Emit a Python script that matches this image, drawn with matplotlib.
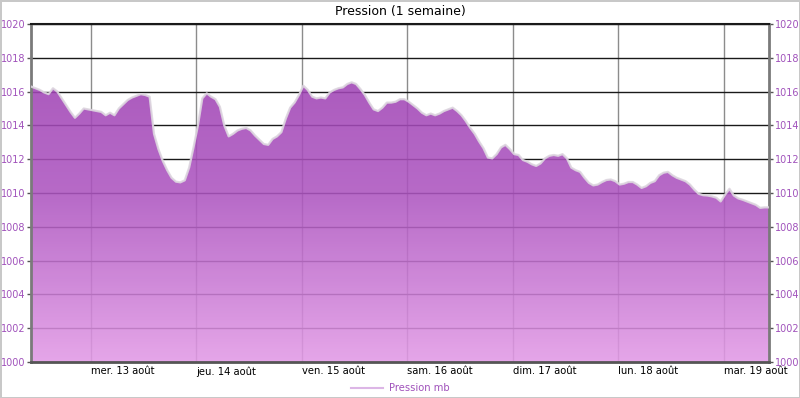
import numpy as np
import pandas as pd
import matplotlib
matplotlib.use("Agg")
import matplotlib.pyplot as plt
import matplotlib.dates as mdates
from matplotlib.colors import LinearSegmentedColormap
from matplotlib.patches import PathPatch
from matplotlib.lines import Line2D

# Hourly pressure readings (mb), 12 Aug 2014 10:20 -> 19 Aug 2014 10:20
start = "2014-08-12 10:20"
pression = [
    1016.3, 1016.2, 1016.1, 1015.95, 1015.85, 1016.2, 1016.0, 1015.6, 1015.2, 1014.8,
    1014.45, 1014.7, 1015.0, 1014.95, 1014.9, 1014.85, 1014.8, 1014.6, 1014.75, 1014.6,
    1015.0, 1015.25, 1015.5, 1015.65, 1015.75, 1015.85, 1015.8, 1015.7, 1013.5, 1012.6,
    1011.9, 1011.35, 1010.9, 1010.67, 1010.63, 1010.75, 1011.5, 1012.7, 1014.0, 1015.6,
    1015.9, 1015.7, 1015.55, 1015.1, 1014.0, 1013.35, 1013.5, 1013.7, 1013.8, 1013.85,
    1013.7, 1013.4, 1013.15, 1012.9, 1012.85, 1013.2, 1013.35, 1013.6, 1014.4, 1015.05,
    1015.35, 1015.8, 1016.35, 1016.1, 1015.7, 1015.6, 1015.65, 1015.6, 1015.95, 1016.1,
    1016.2, 1016.25, 1016.45, 1016.55, 1016.45, 1016.15, 1015.8, 1015.35, 1014.95, 1014.85,
    1015.05, 1015.35, 1015.35, 1015.4, 1015.55, 1015.55, 1015.4, 1015.2, 1015.0, 1014.75,
    1014.6, 1014.7, 1014.6, 1014.7, 1014.85, 1014.95, 1015.05, 1014.85, 1014.6, 1014.25,
    1013.85, 1013.5, 1013.05, 1012.65, 1012.1, 1012.05, 1012.3, 1012.7, 1012.85, 1012.6,
    1012.3, 1012.25, 1011.95, 1011.85, 1011.7, 1011.6, 1011.75, 1012.05, 1012.2, 1012.25,
    1012.2, 1012.3, 1012.05, 1011.5, 1011.35, 1011.25, 1010.9, 1010.6, 1010.45, 1010.5,
    1010.65, 1010.77, 1010.8, 1010.7, 1010.5, 1010.55, 1010.65, 1010.65, 1010.5, 1010.3,
    1010.4, 1010.6, 1010.7, 1011.05, 1011.2, 1011.25, 1011.05, 1010.9, 1010.8, 1010.7,
    1010.5, 1010.2, 1009.95, 1009.87, 1009.85, 1009.8, 1009.72, 1009.5, 1009.9, 1010.25,
    1009.85, 1009.68, 1009.6, 1009.5, 1009.4, 1009.3, 1009.12, 1009.15, 1009.15,
]
jours = ["lun.", "mar.", "mer.", "jeu.", "ven.", "sam.", "dim."]
mois = "août"
y_ticks = [1000, 1002, 1004, 1006, 1008, 1010, 1012, 1014, 1016, 1018, 1020]

times = pd.date_range(start, periods=len(pression), freq="h")
purple = "#a052bb"

fig = plt.figure(figsize=(8, 3.98), dpi=100)
fig.patch.set_edgecolor("#c8c8c8")
fig.patch.set_linewidth(1.0)
ax = fig.add_axes([31 / 800, 36 / 398, 738 / 800, 338 / 398])

ax.set_xlim(times[0], times[-1])
ax.set_ylim(1000, 1020)
ax.set_yticks(y_ticks)

# grid behind the translucent fill
ax.set_axisbelow(True)
ax.yaxis.grid(True, color="#1a1a1a", lw=1.0)
ax.xaxis.grid(True, color="#8c8c8c", lw=1.0)

# gradient fill clipped under the curve
poly = ax.fill_between(times, pression, 1000, facecolor="none", edgecolor="none")
clip = PathPatch(poly.get_paths()[0], transform=ax.transData, facecolor="none", edgecolor="none")
ax.add_patch(clip)
cmap = LinearSegmentedColormap.from_list("pr", ["#e29ae6", "#ad55c0", "#9a3db0"])
grad = np.linspace(0, 1, 256).reshape(-1, 1)
x0, x1 = mdates.date2num(times[0]), mdates.date2num(times[-1])
img = ax.imshow(grad, extent=[x0, x1, 1000, 1020], origin="lower", aspect="auto",
                cmap=cmap, alpha=0.88, zorder=2)
img.set_clip_path(clip)
ax.plot(times, pression, color="#ddd6df", lw=1.6, zorder=3, alpha=0.9)
ax.set_xlim(times[0], times[-1])
ax.set_ylim(1000, 1020)

# french day labels
def fmt_jour(x, pos=None):
    d = mdates.num2date(x)
    return f"{jours[d.weekday()]} {d.day} {mois}"

ax.xaxis.set_major_locator(mdates.DayLocator())
ax.xaxis.set_major_formatter(plt.FuncFormatter(fmt_jour))
ax.tick_params(axis="x", length=0, pad=3, labelsize=7.2, colors="black")
ax.tick_params(axis="y", length=3, width=1, color="#555555", pad=1, labelsize=7,
               labelcolor=purple, left=True, right=True, labelleft=True, labelright=True)
plt.setp(ax.get_xticklabels(), ha="left")

for side in ("left", "right"):
    ax.spines[side].set_color("#7a7a7a")
    ax.spines[side].set_linewidth(2)
ax.spines["bottom"].set_color("#555555")
ax.spines["bottom"].set_linewidth(2)
ax.spines["top"].set_color("#1a1a1a")
ax.spines["top"].set_linewidth(1.5)

fig.text(0.5, 1 - 12 / 398, "Pression (1 semaine)", ha="center", va="center", fontsize=9)

handle = Line2D([], [], color="#dcb6e6", lw=1.5)
fig.legend([handle], ["Pression mb"], loc="center", bbox_to_anchor=(0.5, 10 / 398),
           frameon=False, fontsize=7.2, labelcolor=purple, handlelength=3.2,
           handletextpad=0.6)

fig.savefig("out.png", dpi=100)
